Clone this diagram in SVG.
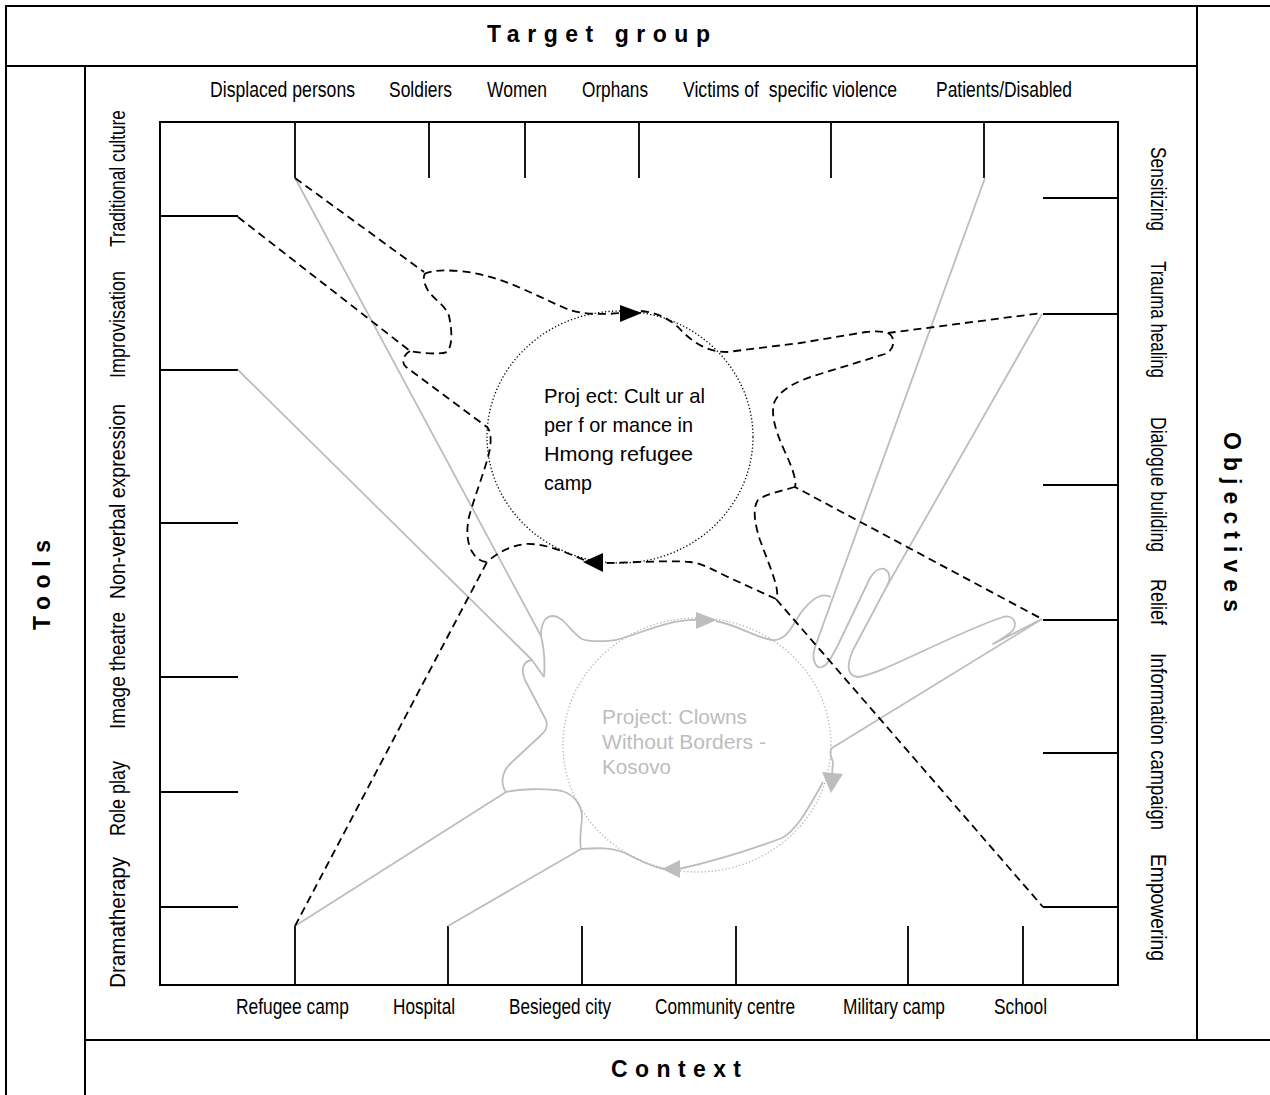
<svg xmlns="http://www.w3.org/2000/svg" width="1270" height="1095" viewBox="0 0 1270 1095">
<style>
.frame{fill:none;stroke:#000;stroke-width:2}
.tick{fill:none;stroke:#000;stroke-width:1.8}
.lbl{font-family:"Liberation Sans",Arial,sans-serif;font-size:22px;fill:#000}
.head{font-family:"Liberation Sans",Arial,sans-serif;font-size:23px;font-weight:bold;fill:#000}
.dash{fill:none;stroke:#000;stroke-width:1.8;stroke-dasharray:8 5}
.gray{fill:none;stroke:#bdbdbd;stroke-width:1.8;stroke-linejoin:round}
.ptxt1{font-family:"Liberation Sans",Arial,sans-serif;font-size:21px;fill:#000}
.ptxt2{font-family:"Liberation Sans",Arial,sans-serif;font-size:20px;fill:#bdbdbd}
</style>
<rect width="1270" height="1095" fill="#fff"/>
<g id="frame">
<path class="frame" d="M6,1095 V6 H1270 M6,66 H1197 M1197,6 V1040 M85,66 V1095 M85,1040 H1270"/>
<rect class="frame" x="160" y="122" width="958" height="863"/>
</g>
<g id="headings">
<text class="head" x="487" y="42" textLength="223" lengthAdjust="spacing">Target group</text>
<text class="head" x="611" y="1077" textLength="130" lengthAdjust="spacing">Context</text>
<text class="head" transform="translate(50,630) rotate(-90)" textLength="90" lengthAdjust="spacing">Tools</text>
<text class="head" transform="translate(1224,432) rotate(90)" textLength="180" lengthAdjust="spacing">Objectives</text>
</g>
<g id="ticks">
<path class="tick" d="M295,122 V178 M429,122 V178 M525,122 V178 M639,122 V178 M831,122 V178 M984,122 V178"/>
<path class="tick" d="M295,985 V926 M448,985 V926 M582,985 V926 M736,985 V926 M908,985 V926 M1023,985 V926"/>
<path class="tick" d="M160,216 H238 M160,370 H238 M160,523 H238 M160,677 H238 M160,792 H238 M160,907 H238"/>
<path class="tick" d="M1118,198 H1043 M1118,314 H1043 M1118,485 H1043 M1118,620 H1043 M1118,753 H1043 M1118,907 H1043"/>
</g>
<g id="target-groups">
<text class="lbl" x="210" y="97" textLength="145" lengthAdjust="spacingAndGlyphs">Displaced persons</text>
<text class="lbl" x="389" y="97" textLength="63" lengthAdjust="spacingAndGlyphs">Soldiers</text>
<text class="lbl" x="487" y="97" textLength="60" lengthAdjust="spacingAndGlyphs">Women</text>
<text class="lbl" x="582" y="97" textLength="66" lengthAdjust="spacingAndGlyphs">Orphans</text>
<text class="lbl" x="683" y="97" textLength="214" lengthAdjust="spacingAndGlyphs" xml:space="preserve">Victims of  specific violence</text>
<text class="lbl" x="936" y="97" textLength="136" lengthAdjust="spacingAndGlyphs">Patients/Disabled</text>
</g>
<g id="contexts">
<text class="lbl" x="236" y="1014" textLength="113" lengthAdjust="spacingAndGlyphs">Refugee camp</text>
<text class="lbl" x="393" y="1014" textLength="62" lengthAdjust="spacingAndGlyphs">Hospital</text>
<text class="lbl" x="509" y="1014" textLength="102" lengthAdjust="spacingAndGlyphs">Besieged city</text>
<text class="lbl" x="655" y="1014" textLength="140" lengthAdjust="spacingAndGlyphs">Community centre</text>
<text class="lbl" x="843" y="1014" textLength="102" lengthAdjust="spacingAndGlyphs">Military camp</text>
<text class="lbl" x="994" y="1014" textLength="53" lengthAdjust="spacingAndGlyphs">School</text>
</g>
<g id="tools">
<text class="lbl" transform="translate(125,247) rotate(-90)" textLength="137" lengthAdjust="spacingAndGlyphs">Traditional culture</text>
<text class="lbl" transform="translate(125,378) rotate(-90)" textLength="107" lengthAdjust="spacingAndGlyphs">Improvisation</text>
<text class="lbl" transform="translate(125,599) rotate(-90)" textLength="195" lengthAdjust="spacingAndGlyphs">Non-verbal expression</text>
<text class="lbl" transform="translate(125,729) rotate(-90)" textLength="117" lengthAdjust="spacingAndGlyphs">Image theatre</text>
<text class="lbl" transform="translate(125,836) rotate(-90)" textLength="75" lengthAdjust="spacingAndGlyphs">Role play</text>
<text class="lbl" transform="translate(125,988) rotate(-90)" textLength="131" lengthAdjust="spacingAndGlyphs">Dramatherapy</text>
</g>
<g id="objectives">
<text class="lbl" transform="translate(1151,147) rotate(90)" textLength="84" lengthAdjust="spacingAndGlyphs">Sensitizing</text>
<text class="lbl" transform="translate(1151,261) rotate(90)" textLength="117" lengthAdjust="spacingAndGlyphs">Trauma healing</text>
<text class="lbl" transform="translate(1151,417) rotate(90)" textLength="135" lengthAdjust="spacingAndGlyphs">Dialogue building</text>
<text class="lbl" transform="translate(1151,579) rotate(90)" textLength="46" lengthAdjust="spacingAndGlyphs">Relief</text>
<text class="lbl" transform="translate(1151,653) rotate(90)" textLength="177" lengthAdjust="spacingAndGlyphs">Information campaign</text>
<text class="lbl" transform="translate(1151,854) rotate(90)" textLength="107" lengthAdjust="spacingAndGlyphs">Empowering</text>
</g>
<g id="connectors">
<g id="clowns-links">
<path class="gray" d="M295,178 L541,636 C544,648 545,665 544,677"/>
<path class="gray" d="M532,660 L544,677"/>
<path class="gray" d="M541,636 C541,624 545,616 553,616 C563,616 571,632 582,639 C592,643 606,641 616,640 C640,634 668,619 698,620"/>
<path class="gray" d="M716,621 C737,625 755,637 772,640 C786,641 791,628 800,614 C808,603 820,591 831,597"/>
<path class="gray" d="M238,370 L532,660 C522,661 521,671 525,680 L546,720 C548,727 546,731 540,736 L510,764 C502,772 500,784 506,792"/>
<path class="gray" d="M506,792 C520,789 545,788 562,791 C575,795 582,805 582,818 C581,830 579,842 581,849 C595,848 612,847 625,853 C638,860 650,866 664,869"/>
<path class="gray" d="M679,869 C710,862 750,850 782,838 C795,831 805,815 823,782"/>
<path class="gray" d="M1042,619 L832,748 C829,752 831,757 833,762 L832,775"/>
<path class="gray" d="M295,926 L506,792"/>
<path class="gray" d="M448,926 L581,849"/>
<path class="gray" d="M985,178 L815,647 C811,660 816,669 822,667 C828,665 832,656 838,645 L870,578 C876,568 884,566 888,572 C891,578 889,582 887,586 L853,650 C847,664 846,676 858,677 C880,675 950,635 1003,617 C1015,614 1019,626 1010,633 C1005,637 1000,640 993,644 L1042,619"/>
<path class="gray" d="M1042,314 L887,586"/>
</g>
<g id="hmong-links">
<path class="dash" d="M295,178 L424,272"/>
<path class="dash" d="M424,274 C432,270 446,270 460,271 C500,275 530,293 567,309 C580,314 600,315 621,313"/>
<path class="dash" d="M641,311 C655,312 668,318 678,327 C690,340 705,352 727,352 L800,343 L866,332 C875,331 882,331 888,333 L1042,313"/>
<path class="dash" d="M888,333 C896,337 895,350 885,354 L823,373 C800,380 780,388 774,403 C771,415 775,430 785,452 C792,467 797,481 795,487 L1042,619"/>
<path class="dash" d="M795,487 C785,490 765,494 758,500 C752,508 755,525 760,540 L772,572 C776,584 779,594 776,599 L1043,907"/>
<path class="dash" d="M776,599 L730,578 C715,571 702,563 690,562 C665,560 630,563 603,563"/>
<path class="dash" d="M584,560 C565,552 545,543 525,544 C510,546 497,553 487,562"/>
<path class="dash" d="M295,926 L487,562"/>
<path class="dash" d="M238,217 L410,351 C420,353 440,355 447,352 C453,345 452,330 449,316 C445,305 435,300 429,292 C423,283 423,276 425,274"/>
<path class="dash" d="M410,351 C403,355 401,363 406,367 L487,427 C492,432 491,445 489,453 C485,470 475,495 469,517 C466,530 467,545 473,553 C477,560 483,562 487,562"/>
</g>
</g>
<g id="project-hmong">
<ellipse cx="620" cy="437" rx="133" ry="126" fill="none" stroke="#000" stroke-width="1.3" stroke-dasharray="1.3 2.2"/>
<polygon points="620,305 642,313 620,322" fill="#000"/>
<polygon points="583,562 603,553 603,572" fill="#000"/>
<text class="ptxt1" x="544" y="403" textLength="161" lengthAdjust="spacingAndGlyphs">Proj ect: Cult ur al</text>
<text class="ptxt1" x="544" y="432" textLength="149" lengthAdjust="spacingAndGlyphs">per f or mance in</text>
<text class="ptxt1" x="544" y="461" textLength="149" lengthAdjust="spacingAndGlyphs">Hmong refugee</text>
<text class="ptxt1" x="544" y="490" textLength="48" lengthAdjust="spacingAndGlyphs">camp</text>
</g>
<g id="project-clowns">
<ellipse cx="697" cy="745" rx="134" ry="127" fill="none" stroke="#b5b5b5" stroke-width="1.3" stroke-dasharray="1.3 2.2"/>
<polygon points="696,612 717,620 696,629" fill="#bdbdbd"/>
<polygon points="822,772 843,774 831,793" fill="#bdbdbd"/>
<polygon points="662,869 680,860 680,878" fill="#bdbdbd"/>
<text class="ptxt2" x="602" y="724" textLength="145" lengthAdjust="spacingAndGlyphs">Project: Clowns</text>
<text class="ptxt2" x="602" y="749" textLength="164" lengthAdjust="spacingAndGlyphs">Without Borders -</text>
<text class="ptxt2" x="602" y="774" textLength="69" lengthAdjust="spacingAndGlyphs">Kosovo</text>
</g>
</svg>
